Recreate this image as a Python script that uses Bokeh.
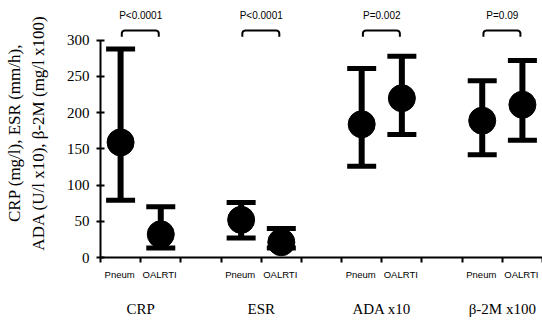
import numpy as np
from bokeh.plotting import figure
from bokeh.models import FixedTicker, LinearAxis, Range1d, ColumnDataSource
from bokeh.embed import file_html
from bokeh.resources import INLINE
from bokeh.core.properties import value

# ---- data ----
groups = ["CRP", "ESR", "ADA x10", "β-2M x100"]
subgroups = ["Pneum", "OALRTI"]
p_values = ["P<0.0001", "P<0.0001", "P=0.002", "P=0.09"]
pneum_mean = [159, 52, 184, 189]
pneum_low = [79, 27, 126, 142]
pneum_high = [288, 76, 261, 244]
oalrti_mean = [32, 21, 220, 211]
oalrti_low = [13, 13, 170, 162]
oalrti_high = [70, 40, 278, 272]
y_ticks = [0, 50, 100, 150, 200, 250, 300]
y_title = "CRP (mg/l), ESR (mm/h),\nADA (U/l x10), β-2M (mg/l x100)"

# ---- positions ----
centers = [3 * i + 1 for i in range(len(groups))]
xp = [c - 0.5 for c in centers]
xo = [c + 0.5 for c in centers]
xs_all = xp + xo
mean_all = pneum_mean + oalrti_mean
low_all = pneum_low + oalrti_low
high_all = pneum_high + oalrti_high

src = ColumnDataSource(dict(x=xs_all, m=mean_all, lo=low_all, hi=high_all))

p = figure(width=542, height=326, x_range=Range1d(0, 11), y_range=Range1d(0, 343.9),
           output_backend="svg", toolbar_location=None,
           x_axis_type=None, y_axis_type=None,
           min_border_left=100, min_border_right=0, min_border_top=8, min_border_bottom=69)
p.grid.visible = False
p.outline_line_color = None
p.background_fill_color = "white"
p.border_fill_color = "white"

# y axis
yaxis = LinearAxis(ticker=FixedTicker(ticks=y_ticks), bounds=(0, 300),
                   axis_line_width=2, axis_line_color="black",
                   major_tick_line_width=2, major_tick_in=4, major_tick_out=4,
                   minor_tick_line_color=None,
                   major_label_text_font="Liberation Serif",
                   major_label_text_font_size="15px",
                   major_label_text_color="black",
                   major_label_standoff=7,
                   axis_label=y_title,
                   axis_label_text_font="Liberation Serif",
                   axis_label_text_font_size="17px",
                   axis_label_text_font_style="normal",
                   axis_label_text_color="black",
                   axis_label_text_line_height=1.25,
                   axis_label_standoff=16)
p.add_layout(yaxis, "left")

# x axis 1: separator ticks at integers, subgroup labels centred on each group
sep = "\u00a0\u00a0\u00a0"
sub_label = sep.join(subgroups)
overrides = {i: "" for i in range(12)}
for c in centers:
    overrides[c] = sub_label
xaxis1 = LinearAxis(ticker=FixedTicker(ticks=list(range(12))),
                    bounds=(0, 11),
                    axis_line_width=2, axis_line_color="black",
                    major_tick_line_width=2, major_tick_line_color="black",
                    major_tick_in=0, major_tick_out=5,
                    minor_tick_line_color=None,
                    major_label_overrides=overrides,
                    major_label_text_font="Liberation Sans",
                    major_label_text_font_size="9.5px",
                    major_label_text_color="black",
                    major_label_standoff=6)
p.add_layout(xaxis1, "below")

xaxis2 = LinearAxis(ticker=FixedTicker(ticks=centers),
                    axis_line_color=None,
                    major_tick_line_color=None, major_tick_in=0, major_tick_out=0,
                    minor_tick_line_color=None,
                    major_label_overrides={c: g for c, g in zip(centers, groups)},
                    major_label_text_font="Liberation Serif",
                    major_label_text_font_size="15px",
                    major_label_text_color="black",
                    major_label_standoff=18)
p.add_layout(xaxis2, "below")

# error bars
p.segment(x0="x", y0="lo", x1="x", y1="hi", source=src, line_width=6, line_color="black")
p.scatter(x="x", y="lo", source=src, marker="dash", size=29, line_width=5, line_color="black")
p.scatter(x="x", y="hi", source=src, marker="dash", size=29, line_width=5, line_color="black")
p.scatter(x="x", y="m", source=src, marker="circle", size=27, fill_color="black", line_color="black")

# significance brackets
top, bot = 313.5, 305.0
rx, ry = 0.075, 4.1
bx, by = [], []
for c in centers:
    x0, x1 = c - 0.47, c + 0.45
    t = np.linspace(np.pi, np.pi / 2, 6)
    left_arc_x = x0 + rx + rx * np.cos(t)
    left_arc_y = top - ry + ry * np.sin(t)
    t2 = np.linspace(np.pi / 2, 0, 6)
    right_arc_x = x1 - rx + rx * np.cos(t2)
    right_arc_y = top - ry + ry * np.sin(t2)
    xs = [x0] + list(left_arc_x) + list(right_arc_x) + [x1]
    ys = [bot] + list(left_arc_y) + list(right_arc_y) + [bot]
    bx.append(xs)
    by.append(ys)
p.multi_line(xs=bx, ys=by, line_width=2, line_color="black")

p.text(x=centers, y=[334.7] * len(centers), text=p_values,
       text_font=value("Liberation Sans"), text_font_size="10px",
       text_align="center", text_baseline="middle", text_color="black")

open("out.html", "w").write(file_html(p, INLINE))
